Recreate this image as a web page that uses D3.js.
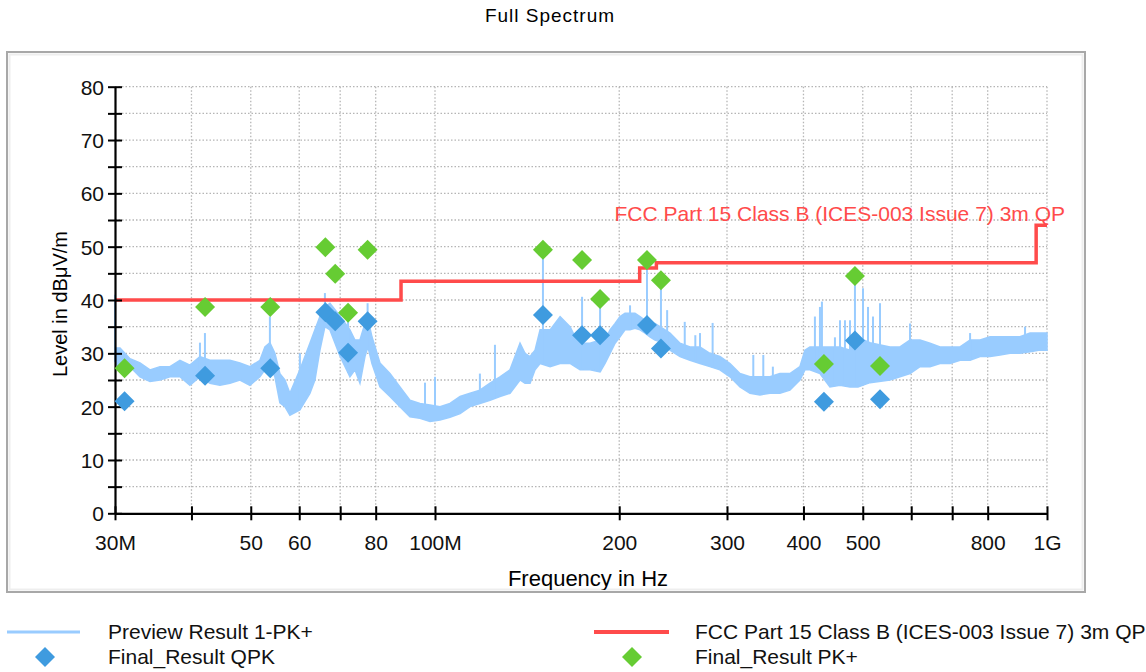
<!DOCTYPE html>
<html lang="en">
<head>
<meta charset="utf-8">
<title>Full Spectrum</title>
<script src="https://cdn.jsdelivr.net/npm/d3@7"></script>
<style>
  body { margin: 0; background: #fff; }
  svg { display: block; font-family: "Liberation Sans", Arial, sans-serif; }
</style>
</head>
<body>
<svg id="chart" width="1146" height="672"></svg>
<script>
const previewFreq = [30.0, 30.57, 31.74, 32.96, 34.22, 35.53, 36.89, 38.30, 39.77, 41.30, 42.88, 44.52, 46.23, 48.00, 49.84,
  51.75, 52.73, 53.73, 54.75, 55.79, 56.85, 57.93, 60.15, 62.46, 63.65, 64.86, 66.09, 67.35, 69.93, 72.61, 73.99, 75.40,
  76.83, 77.70, 78.88, 81.29, 84.41, 87.65, 91.01, 94.51, 98.13, 101.9, 105.8, 109.9, 114.1, 118.4, 123.0, 127.7, 132.6,
  137.7, 140.3, 143.0, 145.7, 148.5, 154.2, 160.1, 166.2, 169.4, 172.6, 179.2, 186.1, 189.6, 193.2, 196.9, 200.6, 204.4,
  208.3, 212.2, 216.3, 220.4, 224.5, 228.8, 237.6, 242.1, 251.4, 261.0, 271.0, 281.3, 292.1, 303.4, 315.0, 327.1, 339.6,
  352.6, 366.1, 380.1, 394.7, 402.2, 409.8, 425.6, 441.9, 458.9, 476.5, 491.1, 513.8, 553.9, 575.2, 597.3, 620.2, 644.0,
  668.7, 694.4, 721.0, 748.7, 777.4, 807.2, 838.0, 870.2, 903.5, 938.2, 974.1, 1000];
const previewLo = [28.5, 27, 27.5, 25.6, 24.7, 25, 25.6, 25.6, 24, 25.6, 24.4, 24, 24.4, 25, 24,
  25.6, 26.9, 27.5, 25.6, 20.7, 20, 18.4, 19.4, 22.5, 25, 30.6, 35, 34.4, 29.5, 25.6, 26.9, 24.4,
  29.4, 31.2, 28.1, 23.7, 21.9, 20, 18.1, 17.8, 17.2, 17.5, 18, 18.7, 20, 20.6, 21.2, 21.9, 22.5,
  25, 24.4, 24.4, 26.9, 28.1, 27.5, 28.1, 28.1, 27.5, 26.9, 26.9, 26.5, 28.1, 30, 31.9, 33.1, 34.4,
  34.4, 34.7, 34.4, 33.8, 33.1, 32.5, 31.9, 30.6, 29.4, 28.7, 28.1, 27.5, 26.9, 25.6, 23.7, 22.5, 22.2,
  22.5, 22.5, 23.1, 25, 26.9, 26.9, 26.2, 23.7, 24, 23.7, 23.7, 24.5, 25, 25.6, 26.2, 27.5, 27.5,
  28.1, 28.1, 28.7, 28.7, 29.4, 29.4, 29.7, 30, 30, 30.3, 30.6, 30.6];
const previewHi = [31, 31, 29, 28.2, 26.9, 27.5, 27.5, 28.7, 27.8, 29.4, 28.7, 28.7, 28.7, 28.2, 27.5,
  28.7, 31.2, 32, 30, 26.2, 25, 22.5, 26.9, 31.9, 34.4, 36.9, 38.7, 39.4, 37, 34.4, 32.5, 32.5,
  35.6, 36.5, 33.1, 28.2, 26.2, 23.7, 21.2, 20.6, 20.3, 20, 20.6, 21.9, 22.5, 23.1, 24.4, 25.6, 26.9,
  31.9, 30, 29.4, 30.6, 34.4, 34.4, 36.9, 35, 33.1, 31.9, 31.9, 32.5, 32.5, 34.4, 35.6, 36.9, 37.5,
  37.5, 37.5, 36.9, 36.2, 35.6, 35.6, 34.4, 33.8, 31.9, 31.2, 31.2, 30, 29.4, 28.1, 26.2, 25.6, 25.6,
  25.6, 26.2, 26.2, 27.5, 30.6, 31.2, 31.2, 31.2, 31.2, 30.6, 33, 32, 31.2, 31.2, 32.5, 32.5, 31.9,
  31.2, 31.2, 31.2, 32.5, 32.5, 33.1, 33.1, 33.1, 33.1, 33.8, 33.8, 33.8];

// narrow peaks sticking out of the preview band
const spikeFreq = [30.0, 41.3, 42.08, 53.73, 60.15, 66.09, 72.1, 77.6, 96.3, 99.99, 118.4, 125.3, 150.1, 173.9, 186.1,
  208.3, 222.0, 234.0, 239.5, 255.9, 266.3, 271.0, 284.2, 331.2, 343.9, 356.5, 417.6, 425.6, 428.8, 450.3, 458.9,
  467.6, 476.5, 485.5, 500.4, 509.9, 519.6, 533.5, 597.3, 748.7, 920.7];
const spikeLevel = [41, 32, 33.8, 36.9, 30, 41.3, 37.6, 39.4, 24.5, 25.6, 26.2, 31.6, 49.4, 40.6, 40.2,
  39, 47.5, 43.7, 38.1, 35.9, 33.4, 33.8, 35.7, 29.7, 29.7, 27.5, 36.9, 38.7, 39.7, 33, 36.2,
  36.2, 36.2, 44.5, 42.2, 38.7, 36.9, 39.4, 35.6, 33.8, 35];

// limit line, stepped: start frequency of each segment and its level
const limitStart = [30, 88, 216, 230, 960, 1000];
const limitLevel = [40, 43.5, 46, 47, 54, 54];
const limitName = "FCC Part 15 Class B (ICES-003 Issue 7) 3m QP";

// final measurements
const finalFreq = [31.1, 42.1, 53.8, 66.2, 68.7, 72.1, 77.6, 150.1, 173.9, 186.1, 222.0, 234.0, 432.0, 485.5, 533.5];
const qpkLevel = [21.0, 25.8, 27.2, 37.7, 36.0, 30.1, 36.0, 37.2, 33.4, 33.4, 35.3, 30.9, 20.9, 32.4, 21.4];
const pkLevel = [27.2, 38.7, 38.7, 49.9, 44.9, 37.6, 49.4, 49.4, 47.5, 40.2, 47.5, 43.7, 28.0, 44.5, 27.6];

const xTicks = [30, 40, 50, 60, 70, 80, 100, 200, 300, 400, 500, 600, 700, 800, 1000];
const xTickLabels = {30: "30M", 50: "50", 60: "60", 80: "80", 100: "100M", 200: "200", 300: "300",
  400: "400", 500: "500", 800: "800", 1000: "1G"};
const yTicks = d3.range(0, 81, 5);

const colors = {preview: "#99ccff", limit: "#ff4b4b", qpk: "#3f9bdf", pk: "#66cc33", grid: "#b5b5b5"};

const svg = d3.select("#chart");
const plotLeft = 115, plotRight = 1047, plotTop = 86.7, plotBottom = 513.3;

let x = d3.scaleLog().domain([30, 1000]).range([plotLeft, plotRight]);
let y = d3.scaleLinear().domain([0, 80]).range([plotBottom, plotTop]);

// title
svg.append("text")
  .attr("x", 550).attr("y", 22)
  .attr("text-anchor", "middle")
  .attr("font-size", 19)
  .attr("letter-spacing", 1)
  .text("Full Spectrum");

// frame around the plot
svg.append("rect")
  .attr("x", 7).attr("y", 52).attr("width", 1078).attr("height", 540)
  .attr("fill", "#fff").attr("stroke", "#a8a8a8").attr("stroke-width", 2);
svg.append("rect")
  .attr("x", 9.5).attr("y", 54.5).attr("width", 1073).attr("height", 535)
  .attr("fill", "none").attr("stroke", "#eeeeee").attr("stroke-width", 2);

svg.append("clipPath").attr("id", "frameClip")
  .append("rect").attr("x", 8).attr("y", 53).attr("width", 1076).attr("height", 537);

// grid
let grid = svg.append("g");
grid.selectAll("line.h")
  .data(yTicks.filter(d => d > 0)).enter()
  .append("line")
  .attr("x1", plotLeft).attr("x2", plotRight)
  .attr("y1", d => y(d)).attr("y2", d => y(d))
  .attr("stroke", colors.grid).attr("stroke-width", 1.3).attr("stroke-dasharray", "1.5,2");
grid.selectAll("line.v")
  .data(xTicks.filter(d => d > 30)).enter()
  .append("line")
  .attr("x1", d => x(d)).attr("x2", d => x(d))
  .attr("y1", plotTop).attr("y2", plotBottom)
  .attr("stroke", colors.grid).attr("stroke-width", 1.3).attr("stroke-dasharray", "1.5,2");

// preview trace
let band = previewFreq.map((f, i) => ({f: f, lo: previewLo[i], hi: previewHi[i]}));
let area = d3.area()
  .x(d => x(d.f))
  .y0(d => y(d.lo))
  .y1(d => y(d.hi));
svg.append("path")
  .datum(band)
  .attr("d", area)
  .attr("fill", colors.preview)
  .attr("stroke", colors.preview)
  .attr("stroke-width", 1.5);

let bisect = d3.bisector(d => d.f).left;
function bandLow(f) {
  let i = Math.max(1, Math.min(band.length - 1, bisect(band, f)));
  let a = band[i - 1], b = band[i];
  let t = (Math.log(f) - Math.log(a.f)) / (Math.log(b.f) - Math.log(a.f));
  return a.lo + t * (b.lo - a.lo);
}
svg.append("g").selectAll("line")
  .data(spikeFreq.map((f, i) => ({f: f, v: spikeLevel[i]}))).enter()
  .append("line")
  .attr("x1", d => x(d.f)).attr("x2", d => x(d.f))
  .attr("y1", d => y(d.v)).attr("y2", d => y(bandLow(d.f)))
  .attr("stroke", colors.preview).attr("stroke-width", 2);

// limit line
let limit = limitStart.map((f, i) => ({f: f, v: limitLevel[i]}));
svg.append("path")
  .datum(limit)
  .attr("d", d3.line().x(d => x(d.f)).y(d => y(d.v)).curve(d3.curveStepAfter))
  .attr("fill", "none")
  .attr("stroke", colors.limit)
  .attr("stroke-width", 3.5);
svg.append("text")
  .attr("x", 1065).attr("y", 221)
  .attr("text-anchor", "end")
  .attr("font-size", 21)
  .attr("fill", colors.limit)
  .text(limitName);

// axes
let xAxis = svg.append("g")
  .attr("transform", `translate(0,${plotBottom})`)
  .call(d3.axisBottom(x).tickValues(xTicks).tickSize(7).tickSizeOuter(0).tickFormat(d => xTickLabels[d] || ""));
xAxis.select(".domain").attr("stroke", "#000").attr("stroke-width", 2.2);
xAxis.selectAll(".tick line").attr("y1", -7).attr("stroke", "#000").attr("stroke-width", 2);
xAxis.selectAll(".tick text")
  .attr("y", 37).attr("dy", 0)
  .attr("font-size", 21).attr("font-family", "Liberation Sans, Arial, sans-serif").attr("fill", "#111");

let yAxis = svg.append("g")
  .attr("transform", `translate(${plotLeft},0)`)
  .call(d3.axisLeft(y).tickValues(yTicks).tickSize(7).tickSizeOuter(0).tickFormat(d => d % 10 === 0 ? d : ""));
yAxis.select(".domain").attr("stroke", "#000").attr("stroke-width", 2.2);
yAxis.selectAll(".tick line").attr("x1", 7).attr("stroke", "#000").attr("stroke-width", 2);
yAxis.selectAll(".tick text")
  .attr("x", -11).attr("dy", "0.36em")
  .attr("font-size", 21).attr("font-family", "Liberation Sans, Arial, sans-serif").attr("fill", "#111");

svg.append("text")
  .attr("transform", "translate(67,304) rotate(-90)")
  .attr("text-anchor", "middle")
  .attr("font-size", 20)
  .text("Level in dBμV/m");
svg.append("text")
  .attr("x", 588).attr("y", 586)
  .attr("text-anchor", "middle")
  .attr("font-size", 22)
  .attr("clip-path", "url(#frameClip)")
  .text("Frequency in Hz");

// final results
const diamond = d3.symbol().type(d3.symbolSquare).size(200);
function drawMarks(levels, color) {
  svg.append("g").selectAll("path")
    .data(finalFreq.map((f, i) => ({f: f, v: levels[i]}))).enter()
    .append("path")
    .attr("d", diamond)
    .attr("transform", d => `translate(${x(d.f)},${y(d.v)}) rotate(45)`)
    .attr("fill", color);
}
drawMarks(qpkLevel, colors.qpk);
drawMarks(pkLevel, colors.pk);

// legend
let legend = svg.append("g").attr("font-size", 21).attr("fill", "#111");
legend.append("line").attr("x1", 7).attr("x2", 80).attr("y1", 632).attr("y2", 632)
  .attr("stroke", colors.preview).attr("stroke-width", 3);
legend.append("text").attr("x", 108).attr("y", 639).text("Preview Result 1-PK+");
legend.append("path").attr("d", diamond).attr("transform", "translate(45,657) rotate(45)").attr("fill", colors.qpk);
legend.append("text").attr("x", 108).attr("y", 664).text("Final_Result QPK");
legend.append("line").attr("x1", 594).attr("x2", 669).attr("y1", 632).attr("y2", 632)
  .attr("stroke", colors.limit).attr("stroke-width", 4);
legend.append("text").attr("x", 695).attr("y", 639).text(limitName);
legend.append("path").attr("d", diamond).attr("transform", "translate(632,657) rotate(45)").attr("fill", colors.pk);
legend.append("text").attr("x", 695).attr("y", 664).text("Final_Result PK+");
</script>
</body>
</html>
